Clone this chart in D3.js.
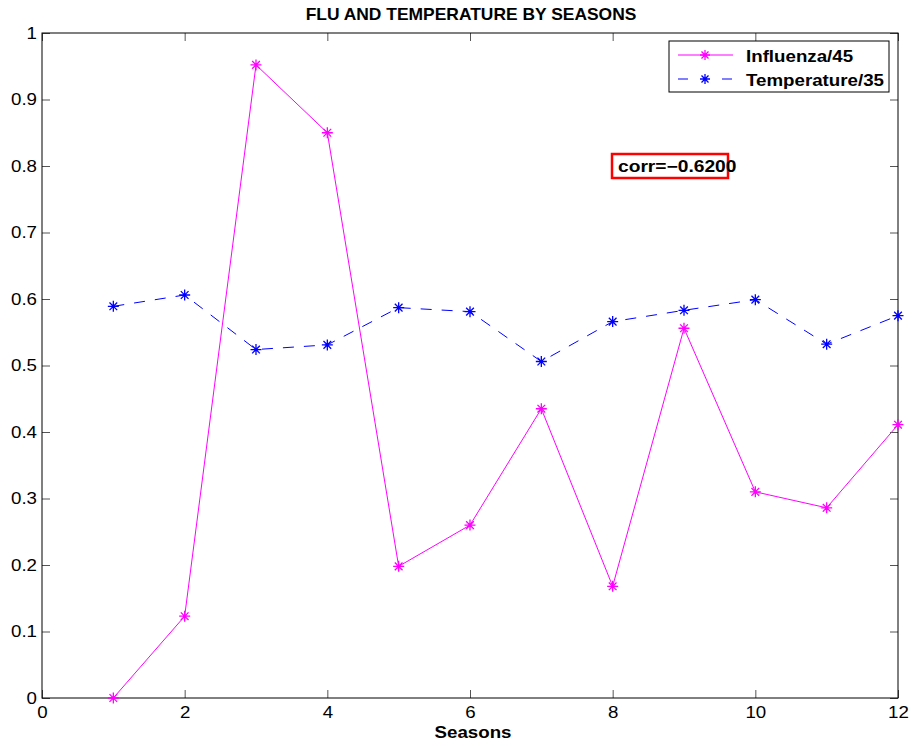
<!DOCTYPE html>
<html>
<head>
<meta charset="utf-8">
<script src="https://cdn.jsdelivr.net/npm/d3@7"></script>
<style>
body { margin: 0; background: #fff; }
text { font-family: "Liberation Sans", Arial, sans-serif; }
</style>
</head>
<body>
<div class="container"></div>
<script>
// season numbers and the two normalised series
var seasons = [1, 2, 3, 4, 5, 6, 7, 8, 9, 10, 11, 12];
var influenza = [0.000, 0.123, 0.952, 0.850, 0.198, 0.260, 0.435, 0.168, 0.556, 0.310, 0.286, 0.411];
var temperature = [0.589, 0.606, 0.524, 0.531, 0.587, 0.581, 0.506, 0.566, 0.583, 0.599, 0.532, 0.575];
var xTicks = [0, 2, 4, 6, 8, 10, 12];
var yTicks = [0, 0.1, 0.2, 0.3, 0.4, 0.5, 0.6, 0.7, 0.8, 0.9, 1];
var seriesNames = ["Influenza/45", "Temperature/35"];
var corrLabel = "corr=\u22120.6200";

var W = 912, H = 746;
// plot box edges (note: "top" is taken by window.top, so use other names)
var pL = 42, pR = 898, pT = 33, pB = 698;
var sx = 1.17; // the original's lettering is a bit wider than Liberation Sans

var svg = d3.select(".container").insert("svg")
	.attr("width", W)
	.attr("height", H);

var x = d3.scaleLinear().domain([0, 12]).range([pL, pR]);
var y = d3.scaleLinear().domain([0, 1]).range([pB, pT]);

var tickLen = 8;

// ticks pointing inward on all four sides
function fmt(d) { return d3.format("~g")(d); }

var gx = svg.append("g").attr("transform", "translate(0," + pB + ")")
	.call(d3.axisBottom(x).tickValues(xTicks).tickSize(-tickLen).tickPadding(9).tickFormat(fmt));
svg.append("g").attr("transform", "translate(0," + pT + ")")
	.call(d3.axisTop(x).tickValues(xTicks).tickSize(-tickLen).tickFormat(""));
var gy = svg.append("g").attr("transform", "translate(" + pL + ",0)")
	.call(d3.axisLeft(y).tickValues(yTicks).tickSize(-tickLen).tickFormat(fmt));
svg.append("g").attr("transform", "translate(" + pR + ",0)")
	.call(d3.axisRight(y).tickValues(yTicks).tickSize(-tickLen).tickFormat(""));

svg.selectAll(".domain").remove();
svg.selectAll(".tick text")
	.style("font-size", "16px")
	.style("font-family", "'Liberation Sans', Arial, sans-serif")
	.style("fill", "#000")
	.attr("transform", "scale(" + sx + ",1)");
gy.selectAll(".tick text").attr("x", -5 / sx);
svg.selectAll(".tick line").style("stroke", "#555");

// frame
svg.append("rect")
	.attr("x", pL).attr("y", pT)
	.attr("width", pR - pL).attr("height", pB - pT)
	.style("fill", "none").style("stroke", "#000").style("stroke-width", 1);

// text helper, stretched sideways
function label(g, tx, ty, str, size, anchor, stretch) {
	return g.append("text")
		.attr("transform", "translate(" + tx + "," + ty + ") scale(" + stretch + ",1)")
		.attr("text-anchor", anchor)
		.style("font-weight", "bold")
		.style("font-size", size + "px")
		.text(str);
}

// asterisk marker
function star(g, cx, cy, r, color) {
	var a = r * 0.7;
	var p = "M" + (cx - r) + "," + cy + "L" + (cx + r) + "," + cy +
		"M" + cx + "," + (cy - r) + "L" + cx + "," + (cy + r) +
		"M" + (cx - a) + "," + (cy - a) + "L" + (cx + a) + "," + (cy + a) +
		"M" + (cx - a) + "," + (cy + a) + "L" + (cx + a) + "," + (cy - a);
	g.append("path").attr("d", p).style("stroke", color).style("stroke-width", 1.3).style("fill", "none");
}

function drawSeries(vals, color, dash) {
	var line = d3.line().x(function(d, i) { return x(seasons[i]); }).y(function(d) { return y(d); });
	svg.append("path").datum(vals)
		.attr("d", line)
		.style("fill", "none")
		.style("stroke", color)
		.style("stroke-width", 1)
		.style("stroke-dasharray", dash);
	var g = svg.append("g");
	vals.forEach(function(v, i) { star(g, x(seasons[i]), y(v), 5.5, color); });
}

drawSeries(temperature, "#0000ff", "11,10");
drawSeries(influenza, "#ff00ff", null);

// title and label
label(svg, 471, 20, "FLU AND TEMPERATURE BY SEASONS", 16, "middle", 1.09);
label(svg, 473, 738, "Seasons", 16, "middle", sx);

// legend
var lg = svg.append("g");
lg.append("rect").attr("x", 669).attr("y", 41).attr("width", 220).attr("height", 51)
	.style("fill", "#fff").style("stroke", "#000").style("stroke-width", 1);
var colors = ["#ff00ff", "#0000ff"];
var dashes = [null, "10,34"];
seriesNames.forEach(function(name, i) {
	var ly = 55 + i * 24;
	lg.append("line").attr("x1", 678).attr("x2", 733).attr("y1", ly).attr("y2", ly)
		.style("stroke", colors[i]).style("stroke-width", 1).style("stroke-dasharray", dashes[i]);
	star(lg, 705, ly, 5, colors[i]);
	label(lg, 746, ly + 7, name, 16, "start", sx);
});

// correlation annotation
svg.append("rect").attr("x", 612).attr("y", 154).attr("width", 116).attr("height", 24)
	.style("fill", "#fff").style("stroke", "#ff0000").style("stroke-width", 2.5);
label(svg, 618, 172, corrLabel, 16, "start", 1.2);
</script>
</body>
</html>
